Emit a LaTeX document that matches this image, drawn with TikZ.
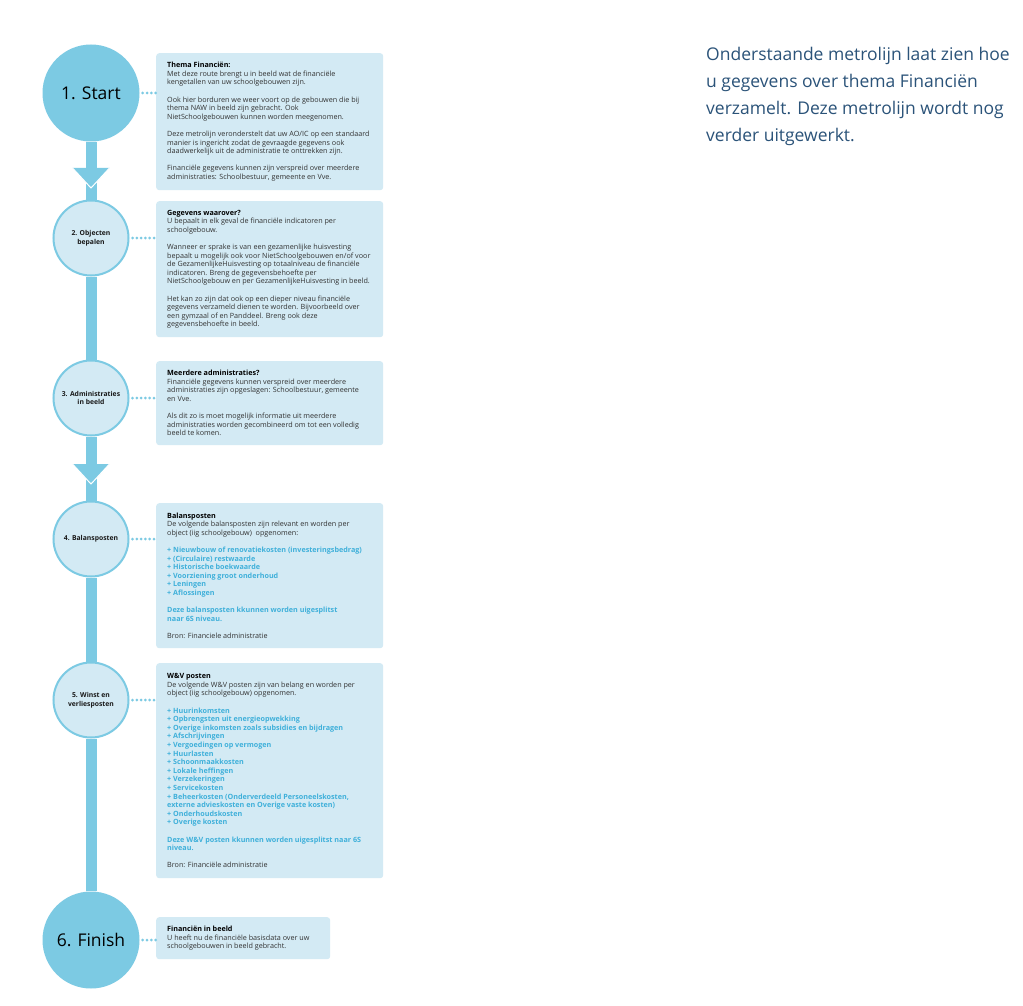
\documentclass[tikz,border=0pt]{standalone}
\usepackage{fontspec}
\setmainfont{Open Sans}
\usetikzlibrary{positioning,arrows,calc}

\definecolor{metro}{HTML}{7CCAE3}
\definecolor{pale}{HTML}{D3EAF4}
\definecolor{postblue}{HTML}{3FB0DA}
\definecolor{bodytxt}{HTML}{333333}
\definecolor{introtxt}{HTML}{2B5379}

\newcommand{\postline}[1]{\textcolor{postblue}{\bfseries #1}}

\tikzset{
  bigstop/.style={circle, fill=metro, minimum size=97pt, inner sep=0pt,
    font=\fontsize{17.5}{20}\selectfont, text=black},
  stop/.style={circle, fill=pale, draw=metro, line width=2pt, minimum size=75pt,
    inner sep=0pt, align=center, font=\fontsize{6.8}{8.8}\selectfont\bfseries, text=black!90},
  infobox/.style={fill=pale, rounded corners=3pt, anchor=north west,
    minimum width=227pt, inner sep=0pt},
  infotext/.style={anchor=west, align=left, inner sep=0pt,
    font=\fontsize{7.2}{8.6}\selectfont, text=bodytxt},
  track/.style={metro, line width=11pt},
  dots/.style={metro, line width=3pt, line cap=round, dash pattern=on 0pt off 4.3pt,
    shorten <=3pt},
}

\begin{document}
\begin{tikzpicture}[x=1pt,y=-1pt]

  \fill[white] (0,0) rectangle (1023,1006);

  % stations
  \node[bigstop] (s1) at (91,93) {1. Start};
  \node[stop] (s2) at (91,238) {2. Objecten\\bepalen};
  \node[stop] (s3) at (91,398) {3. Administraties\\in beeld};
  \node[stop] (s4) at (91,539) {4. Balansposten};
  \node[stop] (s5) at (91,700) {5. Winst en\\verliesposten};
  \node[bigstop] (s6) at (91,940) {6. Finish};

  \path[track] (s1) edge (s2);
  \path[track] (s2) edge (s3);
  \path[track] (s3) edge (s4);
  \path[track] (s4) edge (s5);
  \path[track] (s5) edge (s6);

  % direction marks
  \coordinate (a1) at (91,168);
  \coordinate (a2) at (91,464);
  \foreach \a in {a1,a2} {
    \fill[metro] (\a) ++(-18.5,0) -- ++(37,0) -- ++(-18.5,20) -- cycle;
    \draw[white, line width=1pt] (\a) ++(-18.5,0) -- ++(18.5,20) -- ++(18.5,-20);
  }

  % info boxes
  \node[infobox, minimum height=137pt] (b1) at (156,53) {};
  \node[infotext] (t1) [right=11pt of b1.west] {%
    \textbf{\color{black}Thema Financiën:}\\
    Met deze route brengt u in beeld wat de financiële\\
    kengetallen van uw schoolgebouwen zijn.\\[8.6pt]
    Ook hier borduren we weer voort op de gebouwen die bij\\
    thema NAW in beeld zijn gebracht. Ook\\
    NietSchoolgebouwen kunnen worden meegenomen.\\[8.6pt]
    Deze metrolijn veronderstelt dat uw AO/IC op een standaard\\
    manier is ingericht zodat de gevraagde gegevens ook\\
    daadwerkelijk uit de administratie te onttrekken zijn.\\[8.6pt]
    Financiële gegevens kunnen zijn verspreid over meerdere\\
    administraties: Schoolbestuur, gemeente en Vve.};

  \node[infobox, minimum height=136pt] (b2) at (156,201) {};
  \node[infotext] (t2) [right=11pt of b2.west] {%
    \textbf{\color{black}Gegevens waarover?}\\
    U bepaalt in elk geval de financiële indicatoren per\\
    schoolgebouw.\\[8.6pt]
    Wanneer er sprake is van een gezamenlijke huisvesting\\
    bepaalt u mogelijk ook voor NietSchoolgebouwen en/of voor\\
    de GezamenlijkeHuisvesting op totaalniveau de financiële\\
    indicatoren. Breng de gegevensbehoefte per\\
    NietSchoolgebouw en per GezamenlijkeHuisvesting in beeld.\\[8.6pt]
    Het kan zo zijn dat ook op een dieper niveau financiële\\
    gegevens verzameld dienen te worden. Bijvoorbeeld over\\
    een gymzaal of en Panddeel. Breng ook deze\\
    gegevensbehoefte in beeld.};

  \node[infobox, minimum height=84pt] (b3) at (156,361) {};
  \node[infotext] (t3) [right=11pt of b3.west] {%
    \textbf{\color{black}Meerdere administraties?}\\
    Financiële gegevens kunnen verspreid over meerdere\\
    administraties zijn opgeslagen: Schoolbestuur, gemeente\\
    en Vve.\\[8.6pt]
    Als dit zo is moet mogelijk informatie uit meerdere\\
    administraties worden gecombineerd om tot een volledig\\
    beeld te komen.};

  \node[infobox, minimum height=145pt] (b4) at (156,503) {};
  \node[infotext] (t4) [right=11pt of b4.west] {%
    \textbf{\color{black}Balansposten}\\
    De volgende balansposten zijn relevant en worden per\\
    object (iig schoolgebouw)\ \ opgenomen:\\[8.6pt]
    \postline{+ Nieuwbouw of renovatiekosten (investeringsbedrag)}\\
    \postline{+ (Circulaire) restwaarde}\\
    \postline{+ Historische boekwaarde}\\
    \postline{+ Voorziening groot onderhoud}\\
    \postline{+ Leningen}\\
    \postline{+ Aflossingen}\\[8.6pt]
    \postline{Deze balansposten kkunnen worden uigesplitst}\\
    \postline{naar 6S niveau.}\\[8.6pt]
    Bron: Financiele administratie};

  \node[infobox, minimum height=215pt] (b5) at (156,663) {};
  \node[infotext] (t5) [right=11pt of b5.west] {%
    \textbf{\color{black}W\&V posten}\\
    De volgende W\&V posten zijn van belang en worden per\\
    object (iig schoolgebouw) opgenomen.\\[8.6pt]
    \postline{+ Huurinkomsten}\\
    \postline{+ Opbrengsten uit energieopwekking}\\
    \postline{+ Overige inkomsten zoals subsidies en bijdragen}\\
    \postline{+ Afschrijvingen}\\
    \postline{+ Vergoedingen op vermogen}\\
    \postline{+ Huurlasten}\\
    \postline{+ Schoonmaakkosten}\\
    \postline{+ Lokale heffingen}\\
    \postline{+ Verzekeringen}\\
    \postline{+ Servicekosten}\\
    \postline{+ Beheerkosten (Onderverdeeld Personeelskosten,}\\
    \postline{externe advieskosten en Overige vaste kosten)}\\
    \postline{+ Onderhoudskosten}\\
    \postline{+ Overige kosten}\\[8.6pt]
    \postline{Deze W\&V posten kkunnen worden uigesplitst naar 6S}\\
    \postline{niveau.}\\[8.6pt]
    Bron: Financiële administratie};

  \node[infobox, minimum width=174pt, minimum height=42pt] (b6) at (156,917) {};
  \node[infotext] (t6) [right=11pt of b6.west] {%
    \textbf{\color{black}Financiën in beeld}\\
    U heeft nu de financiële basisdata over uw\\
    schoolgebouwen in beeld gebracht.};

  % dotted links
  \foreach \i in {1,...,6}
    \draw[dots] (s\i.east) -- (s\i.east -| b\i.west);

  % intro
  \node[anchor=north west, align=left, inner sep=0pt, text=introtxt,
    font=\fontsize{17.5}{26.8}\selectfont] (intro) at (706,47.5) {%
    Onderstaande metrolijn laat zien hoe\\
    u gegevens over thema Financiën\\
    verzamelt. Deze metrolijn wordt nog\\
    verder uitgewerkt.};

\end{tikzpicture}
\end{document}
